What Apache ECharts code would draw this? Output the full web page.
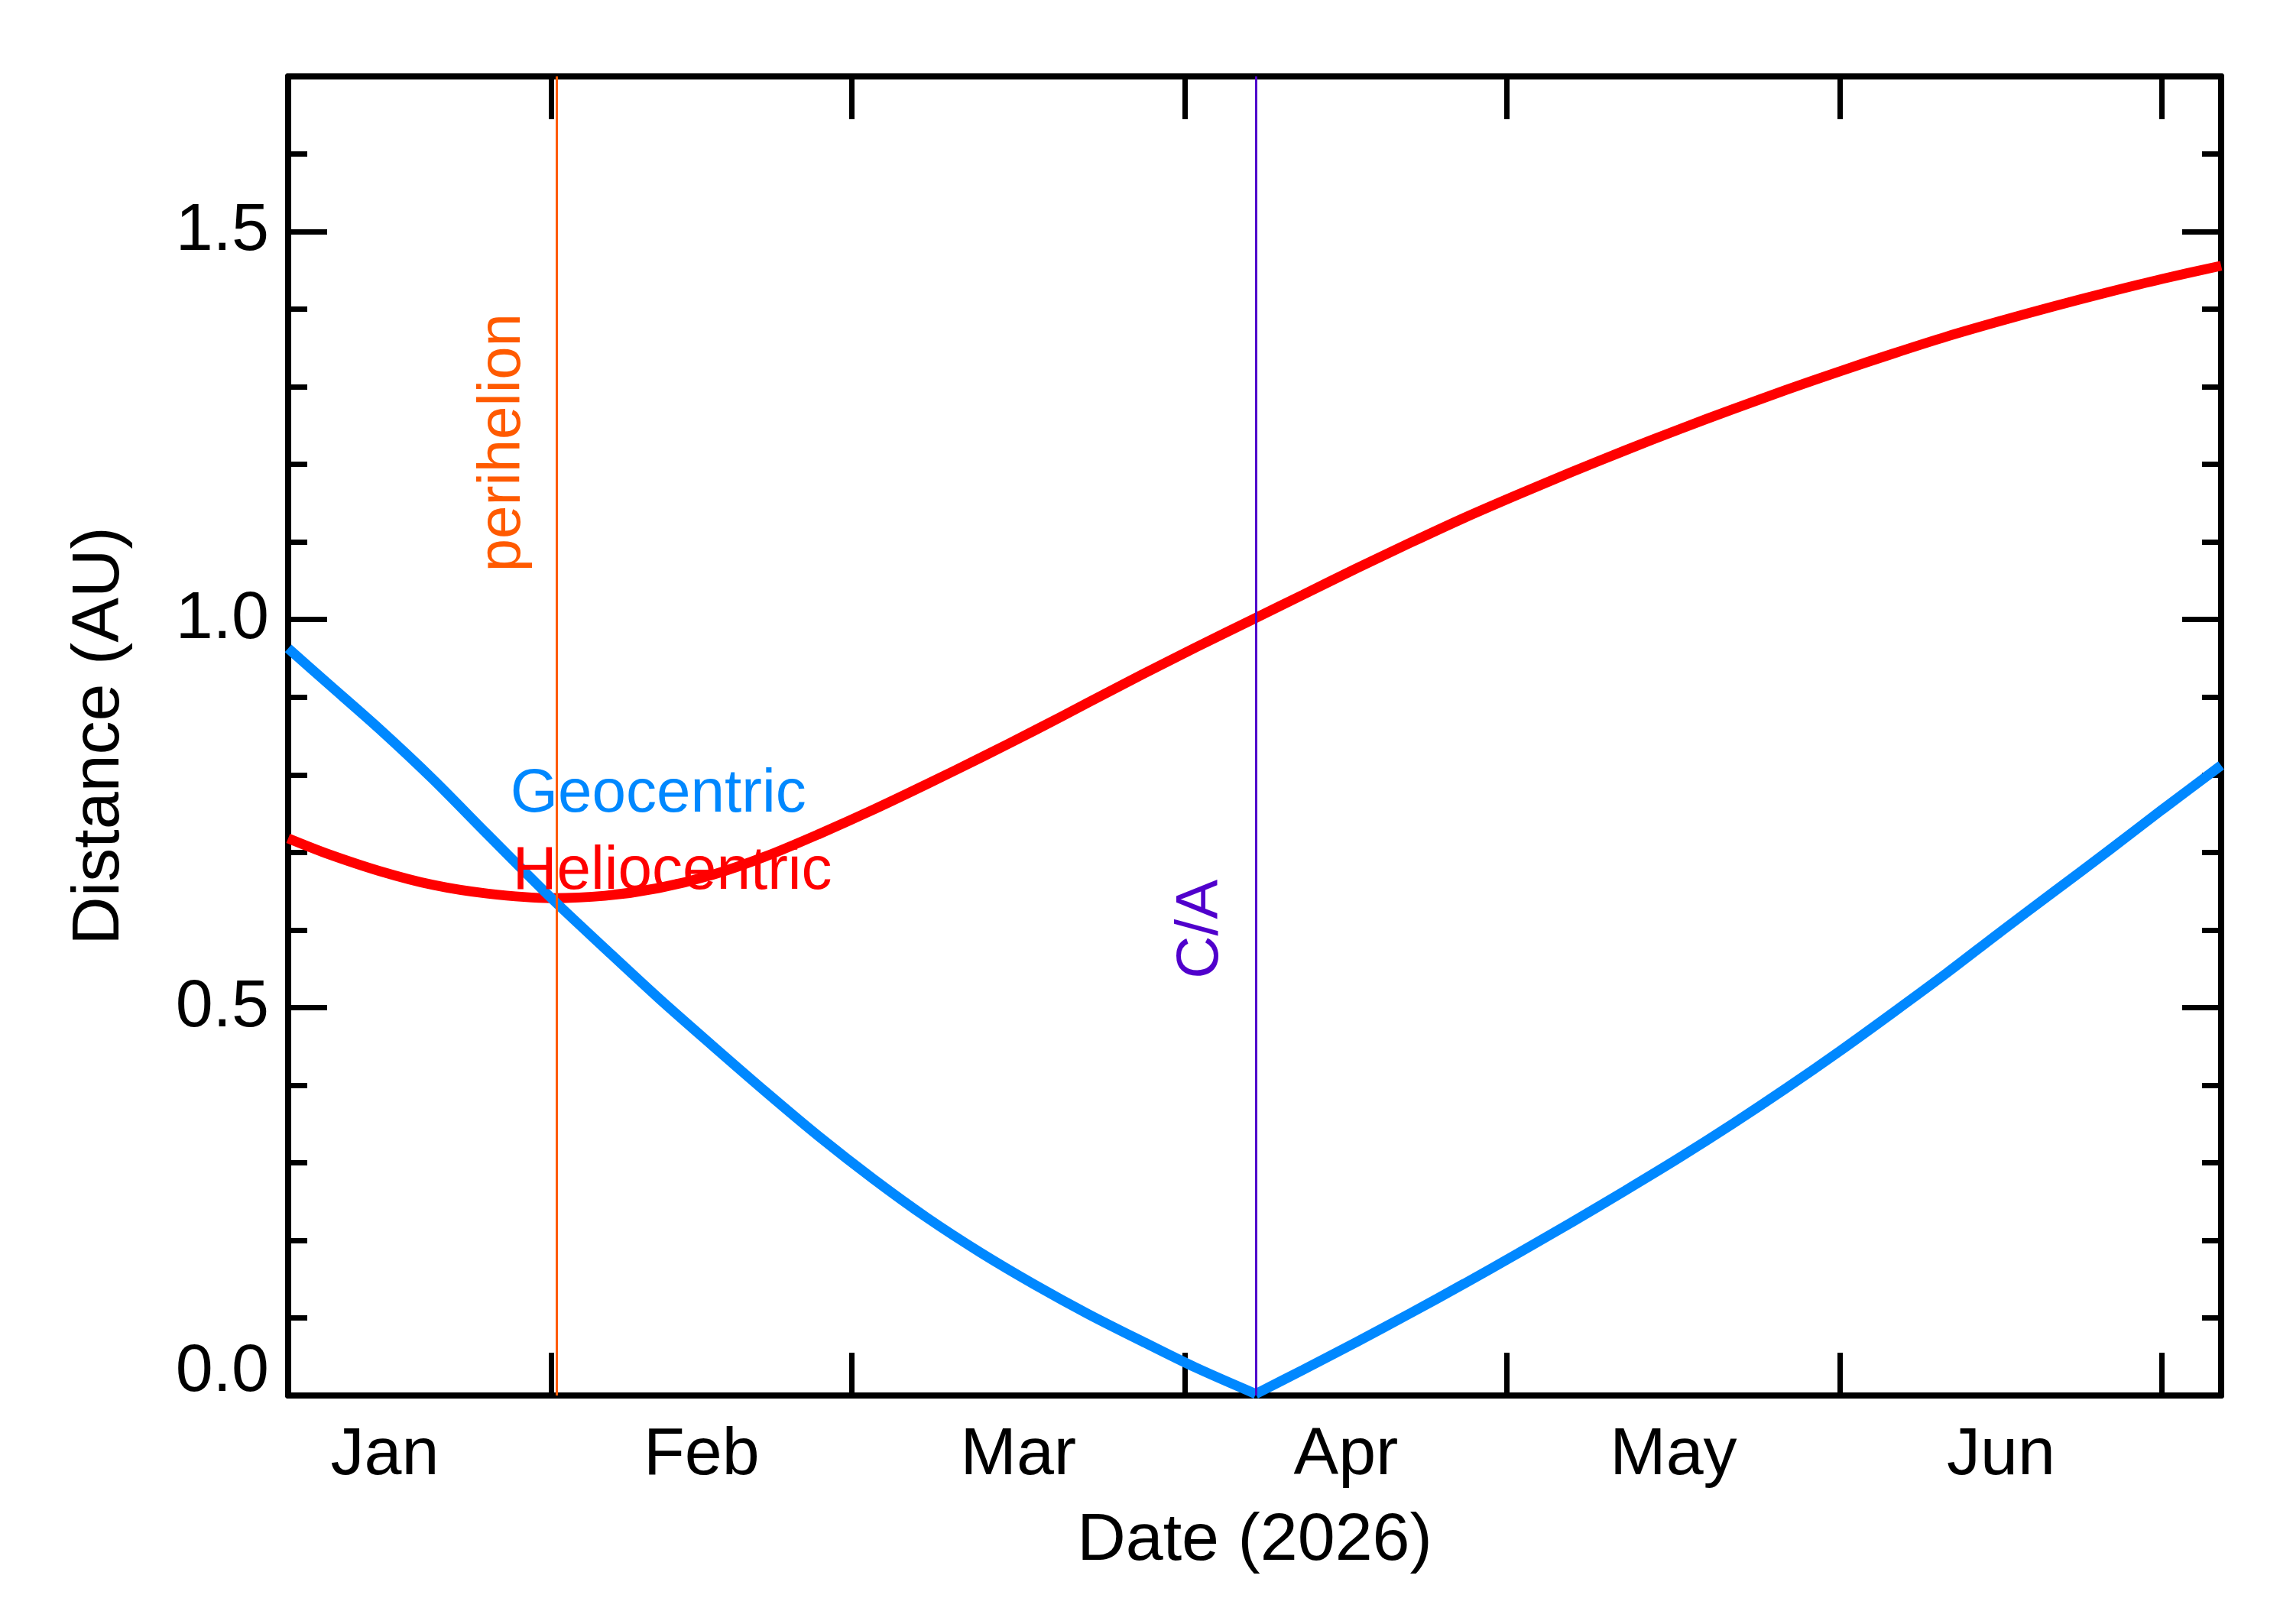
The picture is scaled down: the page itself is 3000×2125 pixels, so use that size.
<!DOCTYPE html>
<html>
<head>
<meta charset="utf-8">
<script src="https://cdn.jsdelivr.net/npm/echarts@6.0.0/dist/echarts.min.js"></script>
<style>
  html, body { margin: 0; padding: 0; background: #fff; }
  #chart { width: 3000px; height: 2125px; }
</style>
</head>
<body>
<div id="chart"></div>
<script>
// day of year 2026 (Jan 1 = 0)
const days = [6.5, 10, 15, 20, 25, 31, 36, 41, 46, 51, 56, 61, 66, 71, 76, 81, 86, 91, 96.6,
  101, 106, 111, 116, 121, 126, 131, 136, 141, 146, 151, 156, 161, 166, 171, 176, 181, 186.5]
const geocentric = [0.963, 0.920, 0.859, 0.794, 0.724, 0.641, 0.576, 0.512, 0.451, 0.391, 0.333, 0.279,
  0.229, 0.184, 0.143, 0.105, 0.070, 0.036, 0.002, 0.033, 0.069, 0.106, 0.144, 0.183, 0.223, 0.264,
  0.306, 0.350, 0.396, 0.444, 0.494, 0.545, 0.598, 0.650, 0.702, 0.755, 0.812]
const heliocentric = [0.718, 0.699, 0.676, 0.658, 0.647, 0.641, 0.644, 0.654, 0.671, 0.695, 0.724, 0.755,
  0.788, 0.822, 0.857, 0.893, 0.929, 0.964, 1.002, 1.032, 1.066, 1.099, 1.131, 1.161, 1.190, 1.218,
  1.245, 1.271, 1.296, 1.320, 1.343, 1.365, 1.385, 1.404, 1.422, 1.439, 1.456]

const monthStarts = [31, 59, 90, 120, 151, 181]
const monthMids = [15.5, 45, 74.5, 105, 135.5, 166]
const monthNames = ['Jan', 'Feb', 'Mar', 'Apr', 'May', 'Jun']
const yMajorTicks = [0, 0.5, 1.0, 1.5]

const perihelionDay = 31.5
const closeApproachDay = 96.6

const FONT = 'Liberation Sans'
const BLUE = '#0088FF'
const RED = '#FF0000'
const ORANGE = '#FF5A00'
const PURPLE = '#5000CC'

const chart = echarts.init(document.getElementById('chart'))

const axisLine = { show: true, onZero: false, lineStyle: { color: '#000', width: 8 } }

const xAxisBase = {
  type: 'value',
  min: 6.5,
  max: 186.5,
  splitLine: { show: false },
  axisLine: axisLine,
  axisTick: { show: true, inside: true, length: 56, customValues: monthStarts, lineStyle: { color: '#000', width: 7 } }
}

const yMinor = {
  type: 'value',
  min: 0,
  max: 1.7,
  interval: 0.1,
  splitLine: { show: false },
  axisLine: axisLine,
  axisTick: { show: true, inside: true, length: 25, lineStyle: { color: '#000', width: 7 } },
  axisLabel: { show: false }
}

const yMajor = {
  type: 'value',
  min: 0,
  max: 1.7,
  interval: 0.1,
  splitLine: { show: false },
  axisLine: { show: false },
  axisTick: { show: true, inside: true, length: 51, customValues: yMajorTicks, lineStyle: { color: '#000', width: 7 } },
  axisLabel: { show: false }
}

// geocentric is split at close approach so the V stays sharp
const caIdx = days.indexOf(closeApproachDay)
const geoPairs = days.map((d, i) => [d, geocentric[i]])

const curve = (name, data, color, z) => ({
  name: name,
  type: 'line',
  data: data,
  symbol: 'none',
  smooth: 0.3,
  lineStyle: { color: color, width: 13, cap: 'butt' },
  z: z
})

const series = [
  curve('Heliocentric', days.map((d, i) => [d, heliocentric[i]]), RED, 2),
  curve('Geocentric', geoPairs.slice(0, caIdx + 1), BLUE, 3),
  {
    ...curve('Geocentric', geoPairs.slice(caIdx), BLUE, 3),
    markLine: {
      symbol: 'none',
      silent: true,
      animation: false,
      label: { show: false },
      data: [
        { xAxis: perihelionDay, lineStyle: { color: ORANGE, width: 3, type: 'solid' } },
        { xAxis: closeApproachDay, lineStyle: { color: PURPLE, width: 3, type: 'solid' } }
      ]
    }
  }
]

let option = {
  animation: false,
  backgroundColor: '#fff',
  grid: { left: 377, right: 94, top: 100, bottom: 299 },
  xAxis: [
    {
      ...xAxisBase,
      position: 'bottom',
      axisLabel: {
        customValues: monthMids,
        formatter: v => monthNames[monthMids.findIndex(m => Math.abs(m - v) < 0.01)] || '',
        margin: 35,
        fontSize: 88,
        fontFamily: FONT,
        color: '#000'
      },
      name: 'Date (2026)',
      nameLocation: 'middle',
      nameGap: 147,
      nameTextStyle: { fontSize: 88, fontFamily: FONT, color: '#000' }
    },
    { ...xAxisBase, position: 'top', axisLabel: { show: false } }
  ],
  yAxis: [
    {
      ...yMajor,
      position: 'left',
      axisLabel: {
        show: true,
        customValues: yMajorTicks,
        formatter: v => v.toFixed(1),
        margin: 25,
        fontSize: 88,
        lineHeight: 60,
        fontFamily: FONT,
        color: '#000',
        verticalAlignMinLabel: 'bottom'
      },
      name: 'Distance (AU)',
      nameLocation: 'middle',
      nameGap: 202,
      nameTextStyle: { fontSize: 88, fontFamily: FONT, color: '#000' }
    },
    { ...yMinor, position: 'left' },
    { ...yMinor, position: 'right' },
    { ...yMajor, position: 'right' }
  ],
  series: series
}

option && chart.setOption(option)

// annotation texts, anchored in data space
const toPx = p => chart.convertToPixel({ xAxisIndex: 0, yAxisIndex: 0 }, p)
const periPx = toPx([perihelionDay, 1.228])
const caPx = toPx([closeApproachDay, 0.601])
const geoPx = toPx([27.2, 0.774])
const helioPx = toPx([27.4, 0.675])

chart.setOption({
  graphic: [
    {
      type: 'text', x: periPx[0] - 70, y: periPx[1], rotation: Math.PI / 2, z: 10,
      style: { text: 'perihelion', fill: ORANGE, font: `78px "${FONT}"`, align: 'center', verticalAlign: 'middle' }
    },
    {
      type: 'text', x: caPx[0] - 71, y: caPx[1], rotation: Math.PI / 2, z: 10,
      style: { text: 'C/A', fill: PURPLE, font: `78px "${FONT}"`, align: 'center', verticalAlign: 'middle' }
    },
    {
      type: 'text', x: geoPx[0], y: geoPx[1], z: 10,
      style: { text: 'Geocentric', fill: BLUE, font: `80px "${FONT}"`, align: 'left', verticalAlign: 'middle' }
    },
    {
      type: 'text', x: helioPx[0], y: helioPx[1], z: 10,
      style: { text: 'Heliocentric', fill: RED, font: `80px "${FONT}"`, align: 'left', verticalAlign: 'middle' }
    }
  ]
})
</script>
</body>
</html>
